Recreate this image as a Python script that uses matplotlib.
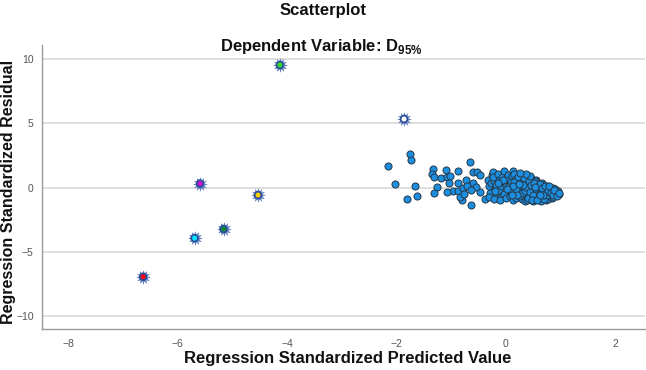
import matplotlib
matplotlib.use("Agg")
import matplotlib.pyplot as plt

plt.rcParams['font.family'] = ['Liberation Sans', 'DejaVu Sans']
plt.rcParams['mathtext.fontset'] = 'custom'
plt.rcParams['mathtext.rm'] = 'Liberation Sans:bold'
plt.rcParams['mathtext.bf'] = 'Liberation Sans:bold'

# Main cluster (standardized predicted value, standardized residual)
cluster_x = [
    -2.15, -1.75, -1.73, -2.02, -1.81, -1.65, -1.63, -0.65, -1.33, -1.35, -1.31, -1.09, -0.87,
    -1.26, -1.31, -1.18, -1.08, -1.02, -1.04, -0.87, -0.80, -0.63, -0.73, -0.59, -0.52, -0.47,
    -0.59, -0.47, -0.38, -0.97, -0.88, -0.79, -0.70, -1.07, -0.84, -0.76, -0.54, -0.63,
    -0.33, -0.31, -0.28, -0.26, -0.30, -0.27,
    -0.24, -0.22, -0.20, -0.18, -0.23, -0.17, -0.21,
    -0.14, -0.12, -0.10, -0.08, -0.13, -0.07, -0.11, -0.06,
    -0.04, -0.02, 0.00, 0.02, -0.03, 0.03, 0.01, 0.04,
    0.06, 0.08, 0.10, 0.12, 0.07, 0.14, 0.11, 0.13, 0.09,
    0.16, 0.18, 0.20, 0.22, 0.17, 0.24, 0.19, 0.23, 0.21, 0.16,
    0.26, 0.28, 0.30, 0.32, 0.27, 0.34, 0.29, 0.33, 0.31, 0.26, 0.35,
    0.36, 0.38, 0.40, 0.42, 0.37, 0.44, 0.39, 0.43, 0.41, 0.36, 0.45,
    0.46, 0.48, 0.50, 0.52, 0.47, 0.54, 0.49, 0.53, 0.51, 0.46, 0.55,
    0.56, 0.58, 0.60, 0.62, 0.57, 0.64, 0.59, 0.63, 0.61, 0.56, 0.65,
    0.66, 0.68, 0.70, 0.72, 0.67, 0.74, 0.69, 0.73, 0.71, 0.75,
    0.76, 0.78, 0.80, 0.82, 0.77, 0.84, 0.79, 0.81, 0.85,
    0.86, 0.88, 0.90, 0.92, 0.94, 0.96, 0.98, 0.87, 0.91,
    0.05, 0.09, 0.15, 0.18, 0.22, 0.25, 0.28, 0.30, 0.33, 0.35,
    0.38, 0.40, 0.42, 0.45, 0.47, 0.50, 0.52, 0.55, 0.57, 0.60,
    0.62, 0.65, 0.67, 0.70, 0.72, 0.75, 0.78, 0.80, 0.83, 0.86,
    0.89, 0.93, 0.97, 0.20, 0.13, 0.03, -0.05, -0.15, -0.19, 0.44,
    0.37, 0.27, 0.48, 0.58, 0.68, 0.54, 0.32, 0.24, 0.11, 0.63,
]
cluster_y = [
    1.68, 2.62, 2.15, 0.25, -0.90, 0.09, -0.69, 1.97, 1.45, 1.08, 0.82, 1.34, 1.31,
    0.04, -0.45, 0.72, 0.80, 0.90, 0.33, 0.33, -0.98, -1.39, 0.59, 1.24, 1.24, 0.98,
    0.33, -0.33, -0.90, -0.25, -0.25, -0.07, 0.12, -0.33, -0.72, -0.53, 0.02, -0.20,
    0.62, 0.15, -0.42, 0.95, -0.75, 0.35,
    1.22, 0.48, -0.10, -0.55, 0.82, 0.22, -0.88,
    1.05, 0.62, 0.30, -0.05, -0.35, -0.70, -0.98, 0.85,
    1.28, 0.45, 0.12, -0.22, -0.50, 0.72, -0.82, 0.98,
    0.58, 0.25, -0.08, -0.40, -0.65, 1.32, 0.88, -0.95, 0.40,
    1.05, 0.70, 0.38, 0.05, -0.25, -0.55, -0.85, 0.55, -0.38, 0.15,
    0.92, 0.62, 0.28, -0.02, -0.32, -0.62, -0.92, 0.45, -0.18, 0.10, -1.02,
    0.85, 0.52, 0.20, -0.10, -0.40, -0.72, -0.98, 0.35, -0.55, 0.05, 0.68,
    0.72, 0.42, 0.12, -0.18, -0.48, -0.78, -1.05, 0.25, -0.32, -0.02, 0.55,
    0.50, 0.22, -0.08, -0.38, -0.65, -0.92, 0.35, 0.05, -0.22, -0.50, -1.08,
    0.38, 0.10, -0.18, -0.45, -0.72, -0.95, 0.22, -0.05, -0.60, -0.30,
    0.15, -0.12, -0.40, -0.68, -0.90, -0.22, 0.02, -0.55, -0.80,
    -0.05, -0.32, -0.58, -0.18, -0.45, -0.30, -0.52, -0.78, -0.10,
    0.05, -0.25, 0.45, -0.10, 0.82, -0.70, 0.35, -0.45, 0.72, -0.25,
    0.05, -0.82, 0.48, -0.35, 0.18, -0.62, 0.38, -0.15, 0.05, -0.75,
    0.30, -0.40, -0.02, -0.88, 0.12, -0.60, -0.30, 0.08, -0.45, -0.62,
    -0.20, -0.68, -0.40, -0.62, 0.15, -0.12, 0.62, 0.38, -0.30, 0.92,
    1.02, 1.12, -0.95, -0.95, -0.58, 0.05, 0.18, 0.28, -0.55, -0.55,
]

# Highlighted outlier cases
outlier_x = [-4.13, -5.59, -4.53, -5.16, -5.69, -6.63, -1.86]
outlier_y = [9.57, 0.31, -0.59, -3.24, -3.95, -6.97, 5.35]
outlier_colors = ['#33dd22', '#cc11cc', '#ffcc00', '#118833', '#00e5ff', '#ff0011', '#ffffff']

x_ticks = [-8, -6, -4, -2, 0, 2]
y_ticks = [-10, -5, 0, 5, 10]

fig = plt.figure(figsize=(6.46, 3.70), dpi=100)
W, H = 646, 370
ax = fig.add_axes([42 / W, 1 - 329 / H, (645 - 42) / W, (329 - 45) / H])

ax.set_xlim(-8.48, 2.547)
ax.set_ylim(-11.05, 11.13)

for yt in y_ticks:
    ax.axhline(yt, color='#d4d4d4', lw=1.1, zorder=0)

ax.scatter(cluster_x, cluster_y, s=26, c='#1c8ee0', edgecolors='#263848',
           linewidths=0.7, zorder=3)

ax.scatter(outlier_x, outlier_y, s=95, marker=(12, 1, 0), c='#5a80c8',
           edgecolors='#4a6ab0', linewidths=0.3, zorder=4, alpha=0.9)
ax.scatter(outlier_x, outlier_y, s=38, marker='o', c='#2b4f9a',
           edgecolors='none', zorder=5)
ax.scatter(outlier_x, outlier_y, s=13, marker='o', c=outlier_colors,
           edgecolors='none', zorder=6)

ax.set_xticks(x_ticks)
ax.set_yticks(y_ticks)
ax.tick_params(axis='both', length=0, labelsize=7.5, labelcolor='#555555')
ax.tick_params(axis='x', pad=7)
ax.tick_params(axis='y', pad=6)

for s in ['top', 'right']:
    ax.spines[s].set_visible(False)
for s in ['left', 'bottom']:
    ax.spines[s].set_color('#9a9a9a')
    ax.spines[s].set_linewidth(1.0)

fig.text(323 / W, 1 - 11 / H, 'Scatterplot', ha='center', va='center',
         fontsize=12, fontweight='bold', color='#111111')
fig.text(321 / W, 1 - 46 / H, r'Dependent Variable: D$_{95\%}$', ha='center',
         va='center', fontsize=12, fontweight='bold', color='#111111')
fig.text(348 / W, 1 - 358 / H, 'Regression Standardized Predicted Value',
         ha='center', va='center', fontsize=12, fontweight='bold', color='#111111')
fig.text(9 / W, 1 - 192 / H, 'Regression Standardized Residual', ha='center',
         va='center', rotation=90, fontsize=11.5, fontweight='bold', color='#111111')

fig.savefig('out.png', dpi=100)
